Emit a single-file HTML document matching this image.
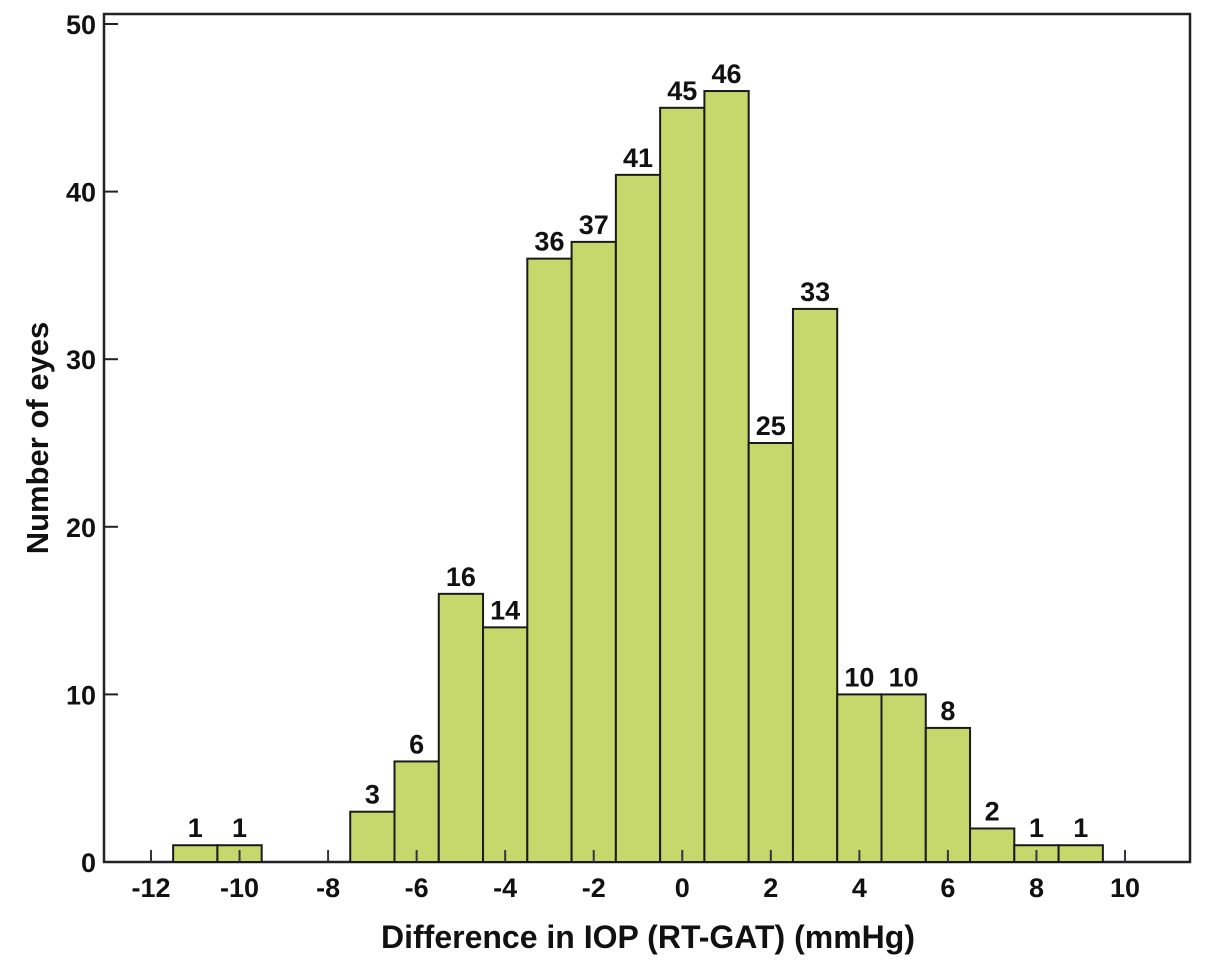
<!DOCTYPE html>
<html><head><meta charset="utf-8"><style>
html,body{margin:0;padding:0;background:#fff;}
svg{display:block;font-family:"Liberation Sans",Arial,sans-serif;font-weight:bold;}
</style></head><body>
<svg id="chart" width="1205" height="965" viewBox="0 0 1205 965">
<rect x="104" y="14" width="1086" height="848" fill="none" stroke="#222" stroke-width="2.5"/>
<g id="bars"></g><g id="yticks"></g><g id="xticks"></g>
<text x="38" y="448" transform="rotate(-90 38 438)" font-size="31" fill="#111" text-anchor="middle">Number of eyes</text>
<text x="648" y="948" font-size="32" fill="#111" text-anchor="middle">Difference in IOP (RT-GAT) (mmHg)</text>
</svg>
<script>
const binCenters=[-11,-10,-7,-6,-5,-4,-3,-2,-1,0,1,2,3,4,5,6,7,8,9];
const counts=[1,1,3,6,16,14,36,37,41,45,46,25,33,10,10,8,2,1,1];
const yTicks=[0,10,20,30,40,50];
const xTicks=[-12,-10,-8,-6,-4,-2,0,2,4,6,8,10];
const NS="http://www.w3.org/2000/svg";
const xs=v=>151+(v+12)*(974/22);
const ys=v=>862-v*16.76;
function mk(t,a,p){const e=document.createElementNS(NS,t);for(const k in a)e.setAttribute(k,a[k]);p.appendChild(e);return e;}
const gb=document.getElementById('bars');
binCenters.forEach((c,i)=>{
const x0=xs(c-0.5),x1=xs(c+0.5),y=ys(counts[i]);
const r=mk('rect',{x:x0,y:y,width:x1-x0,height:862-y,fill:'#c6d86c',stroke:'#1a1a1a','stroke-width':2},gb);


const t=mk('text',{x:(x0+x1)/2,y:y-8,'font-size':27,'text-anchor':'middle',fill:'#111'},gb);
t.textContent=counts[i];


});
const gy=document.getElementById('yticks');
yTicks.forEach(v=>{
const l=mk('line',{x1:104,x2:118,y1:ys(v),y2:ys(v),stroke:'#222','stroke-width':2},gy);


const t=mk('text',{x:96,y:ys(v)+10,'font-size':27,'text-anchor':'end',fill:'#111'},gy);
t.textContent=v;


});
const gx=document.getElementById('xticks');
xTicks.forEach(v=>{
const l=mk('line',{x1:xs(v),x2:xs(v),y1:850,y2:862,stroke:'#334','stroke-width':2},gx);


const t=mk('text',{x:xs(v),y:897,'font-size':27,'text-anchor':'middle',fill:'#111'},gx);
t.textContent=v;


});
</script>
</body></html>
